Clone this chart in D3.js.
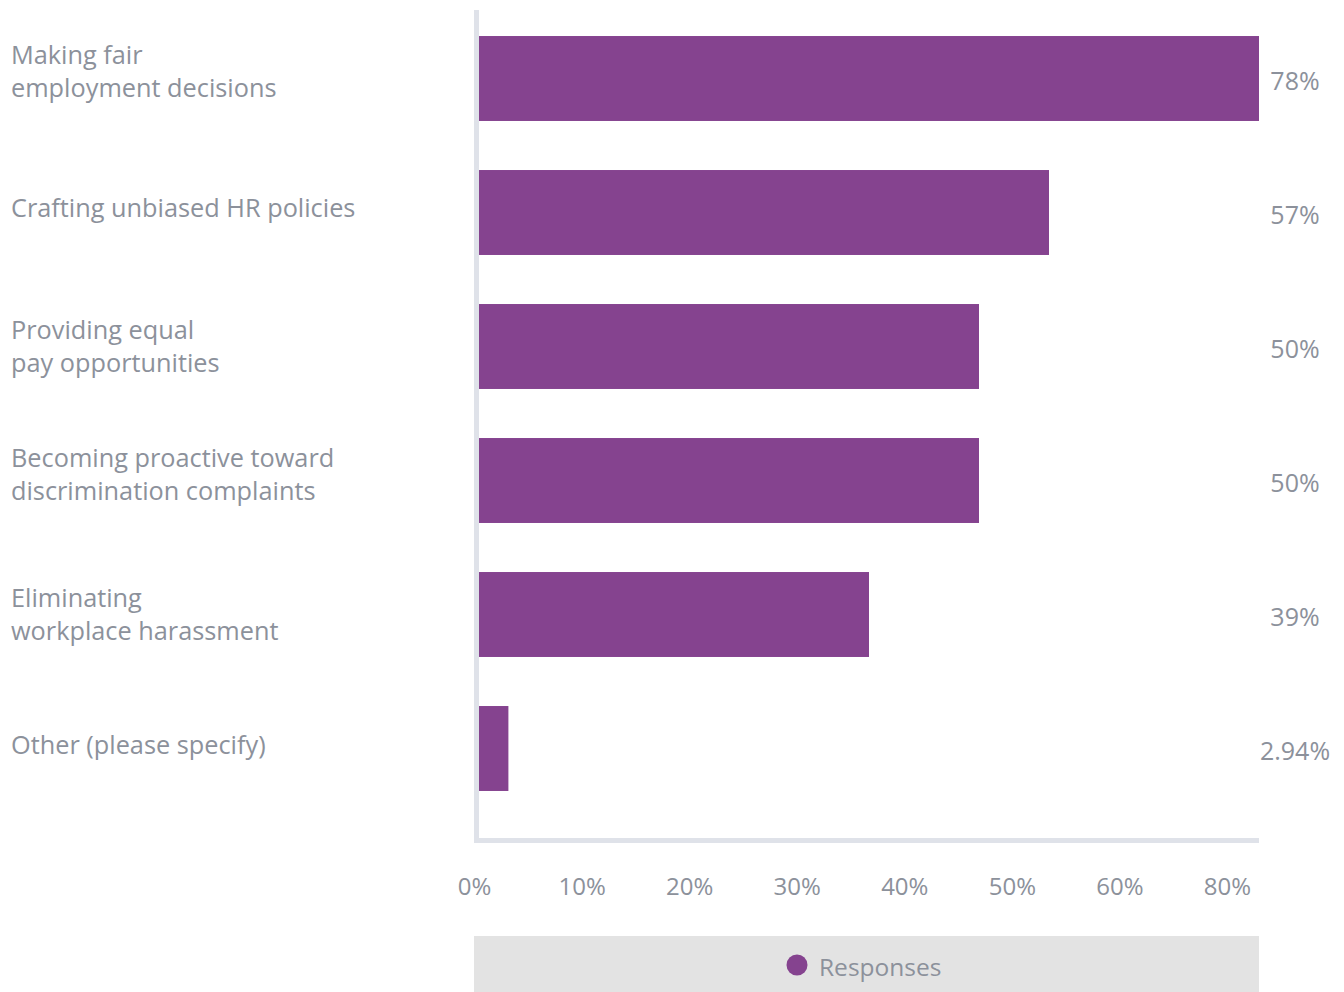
<!DOCTYPE html>
<html>
<head>
<meta charset="utf-8">
<script src="https://cdn.jsdelivr.net/npm/d3@7/dist/d3.min.js"></script>
<style>
  html, body { margin: 0; padding: 0; background: #ffffff; }
  svg { display: block; }
  text { font-family: "Open Sans", "Noto Sans", sans-serif; }
</style>
</head>
<body>
<svg id="chart" width="1344" height="992"></svg>
<script>
// Survey answers, one bar per answer
const categories = [
  "Making fair\nemployment decisions",
  "Crafting unbiased HR policies",
  "Providing equal\npay opportunities",
  "Becoming proactive toward\ndiscrimination complaints",
  "Eliminating\nworkplace harassment",
  "Other (please specify)"
];
const values = [78, 57, 50, 50, 39, 2.94];
const tickLabels = ["0%", "10%", "20%", "30%", "40%", "50%", "60%", "80%"];
const seriesName = "Responses";

const barColor = "#85438f";
const textColor = "#8c919b";
const axisColor = "#dfe2e9";

// Vertical nudge of each category label relative to its bar centre
const labelNudge = [-8, -6, -1, -7, -1, -4.5];

const svg = d3.select("#chart");

const y = d3.scaleBand()
  .domain(categories)
  .range([11.5, 815.5])
  .paddingInner(0.366)
  .paddingOuter(0.183);

const x = d3.scaleLinear().domain([0, 80]).range([479, 1279]);

// Axis frame (left and bottom rules)
svg.append("rect").attr("x", 474).attr("y", 10).attr("width", 5).attr("height", 833).attr("fill", axisColor);
svg.append("rect").attr("x", 474).attr("y", 838).attr("width", 785).attr("height", 5).attr("fill", axisColor);

// Bars
svg.append("g").selectAll("rect")
  .data(values)
  .join("rect")
  .attr("x", x(0))
  .attr("y", (d, i) => y(categories[i]))
  .attr("width", d => x(d) - x(0))
  .attr("height", y.bandwidth())
  .attr("fill", barColor);

// Value labels on the right
svg.append("g").selectAll("text")
  .data(values)
  .join("text")
  .attr("x", 1295)
  .attr("y", (d, i) => y(categories[i]) + y.bandwidth() / 2 + 1)
  .attr("text-anchor", "middle")
  .attr("dominant-baseline", "central")
  .attr("font-size", 25)
  .attr("fill", textColor)
  .text(d => `${d}%`);

// Category labels, wrapped on newline
const catG = svg.append("g");
categories.forEach((c, i) => {
  const lines = c.split("\n");
  const mid = y(c) + y.bandwidth() / 2 + labelNudge[i];
  const lh = 33;
  const t = catG.append("text")
    .attr("font-size", 25.3)
    .attr("fill", textColor);
  lines.forEach((ln, j) => {
    t.append("tspan")
      .attr("x", 11)
      .attr("y", mid + (j - (lines.length - 1) / 2) * lh)
      .attr("dominant-baseline", "central")
      .text(ln);
  });
});

// Bottom tick labels
const xTicks = d3.scalePoint().domain(tickLabels).range([474, 1227]);
const axisG = svg.append("g")
  .attr("transform", "translate(0,870)")
  .call(d3.axisBottom(xTicks).tickSize(0).tickPadding(0));
axisG.select(".domain").remove();
axisG.selectAll("text")
  .attr("font-size", 24)
  .attr("font-family", "'Open Sans', 'Noto Sans', sans-serif")
  .attr("fill", textColor)
  .attr("dy", "0")
  .attr("y", 15.5)
  .attr("dominant-baseline", "central");

// Legend strip
svg.append("rect").attr("x", 474).attr("y", 936).attr("width", 785).attr("height", 56).attr("fill", "#e3e3e3");
svg.append("circle").attr("cx", 797).attr("cy", 965).attr("r", 10.5).attr("fill", barColor);
svg.append("text")
  .attr("x", 819).attr("y", 966)
  .attr("dominant-baseline", "central")
  .attr("font-size", 24.5)
  .attr("fill", textColor)
  .text(seriesName);
</script>
</body>
</html>
